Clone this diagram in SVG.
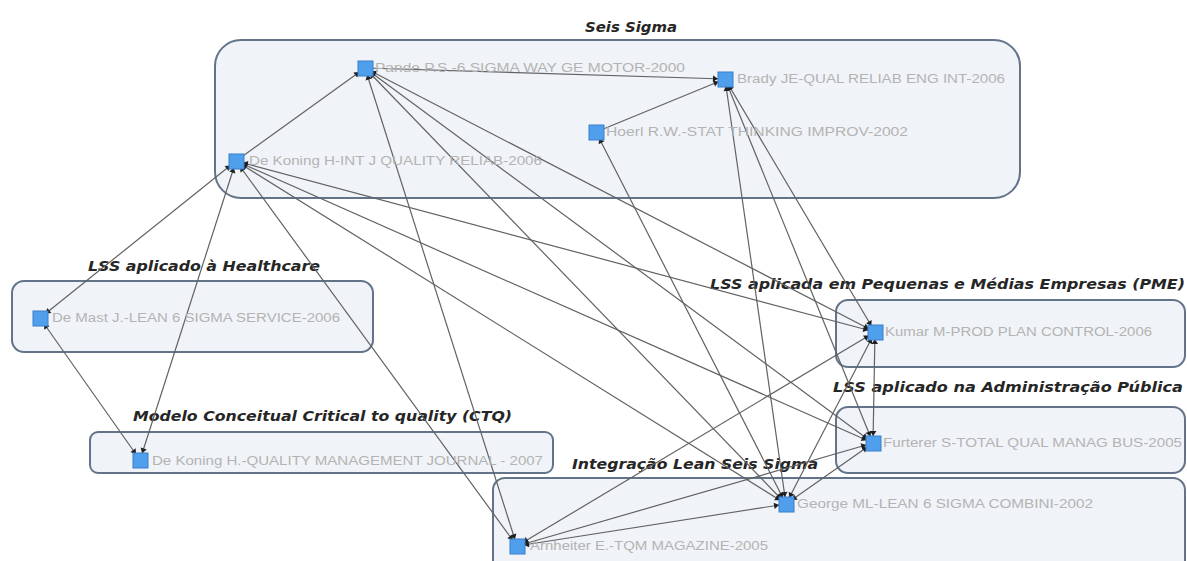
<svg xmlns="http://www.w3.org/2000/svg" width="1187" height="561" viewBox="0 0 1187 561">
<style>
.grp{fill:#f0f3f7;stroke:#63738a;stroke-width:2}
.ttl{font-family:"DejaVu Sans",Verdana,sans-serif;font-weight:bold;font-style:italic;font-size:14px;fill:#262626}
.lbl{font-family:"Liberation Sans",Arial,sans-serif;font-size:12px;fill:#b3b3b3}
.nd{fill:#4f9fec;stroke:#3b7fcf;stroke-width:1}
.e{stroke:#626262;stroke-width:1.2;fill:none;marker-end:url(#ah)}
.b{marker-start:url(#ah)}
</style>
<defs>
<marker id="ah" markerUnits="userSpaceOnUse" markerWidth="20" markerHeight="10" refX="18" refY="4" orient="auto-start-reverse">
<path d="M6,0.8 L11,4 L6,7.2 z" fill="#1f1f1f"/>
</marker>
</defs>
<rect width="1187" height="561" fill="#ffffff"/>
<g id="groups">
<g id="g-seis"><rect class="grp" x="215" y="40" width="805" height="158" rx="26"/><text class="ttl" x="585" y="32" textLength="92" lengthAdjust="spacingAndGlyphs">Seis Sigma</text></g>
<g id="g-health"><rect class="grp" x="12" y="281" width="361" height="71" rx="12"/><text class="ttl" x="88" y="271" textLength="232" lengthAdjust="spacingAndGlyphs">LSS aplicado à Healthcare</text></g>
<g id="g-ctq"><rect class="grp" x="90" y="432" width="463" height="41" rx="8"/><text class="ttl" x="133" y="421" textLength="379" lengthAdjust="spacingAndGlyphs">Modelo Conceitual Critical to quality (CTQ)</text></g>
<g id="g-lean"><rect class="grp" x="493" y="478" width="692" height="100" rx="12"/><text class="ttl" x="572" y="469" textLength="246" lengthAdjust="spacingAndGlyphs">Integração Lean Seis Sigma</text></g>
<g id="g-pme"><rect class="grp" x="836" y="300" width="349" height="67" rx="12"/><text class="ttl" x="710" y="289" textLength="475" lengthAdjust="spacingAndGlyphs">LSS aplicada em Pequenas e Médias Empresas (PME)</text></g>
<g id="g-adm"><rect class="grp" x="836" y="407" width="349" height="66" rx="12"/><text class="ttl" x="833" y="392" textLength="350" lengthAdjust="spacingAndGlyphs">LSS aplicado na Administração Pública</text></g>
</g>
<g id="connectors">
<line class="e" x1="236" y1="161" x2="365" y2="68"/>
<line class="e" x1="365" y1="68" x2="725" y2="79"/>
<line class="e" x1="596" y1="132" x2="725" y2="79"/>
<line class="e b" x1="875" y1="332" x2="725" y2="79"/>
<line class="e b" x1="873" y1="443" x2="725" y2="79"/>
<line class="e b" x1="786" y1="504" x2="725" y2="79"/>
<line class="e b" x1="786" y1="504" x2="596" y2="132"/>
<line class="e b" x1="875" y1="332" x2="365" y2="68"/>
<line class="e b" x1="873" y1="443" x2="365" y2="68"/>
<line class="e b" x1="786" y1="504" x2="365" y2="68"/>
<line class="e b" x1="517" y1="546" x2="365" y2="68"/>
<line class="e b" x1="875" y1="332" x2="236" y2="161"/>
<line class="e b" x1="873" y1="443" x2="236" y2="161"/>
<line class="e b" x1="786" y1="504" x2="236" y2="161"/>
<line class="e b" x1="517" y1="546" x2="236" y2="161"/>
<line class="e b" x1="40" y1="318" x2="236" y2="161"/>
<line class="e b" x1="140" y1="460" x2="236" y2="161"/>
<line class="e b" x1="40" y1="318" x2="140" y2="460"/>
<line class="e b" x1="875" y1="332" x2="873" y2="443"/>
<line class="e b" x1="517" y1="546" x2="875" y2="332"/>
<line class="e b" x1="517" y1="546" x2="786" y2="504"/>
<line class="e b" x1="517" y1="546" x2="873" y2="443"/>
<line class="e b" x1="786" y1="504" x2="873" y2="443"/>
<line class="e b" x1="786" y1="504" x2="875" y2="332"/>
</g>
<g id="n-pande"><rect class="nd" x="358" y="61" width="15" height="15"/><text class="lbl" x="375" y="72" textLength="310" lengthAdjust="spacingAndGlyphs">Pande P.S.-6 SIGMA WAY GE MOTOR-2000</text></g>
<g id="n-brady"><rect class="nd" x="718" y="72" width="15" height="15"/><text class="lbl" x="737" y="83" textLength="268" lengthAdjust="spacingAndGlyphs">Brady JE-QUAL RELIAB ENG INT-2006</text></g>
<g id="n-hoerl"><rect class="nd" x="589" y="125" width="15" height="15"/><text class="lbl" x="606" y="136" textLength="302" lengthAdjust="spacingAndGlyphs">Hoerl R.W.-STAT THINKING IMPROV-2002</text></g>
<g id="n-dekoning1"><rect class="nd" x="229" y="154" width="15" height="15"/><text class="lbl" x="249" y="165" textLength="293" lengthAdjust="spacingAndGlyphs">De Koning H-INT J QUALITY RELIAB-2006</text></g>
<g id="n-demast"><rect class="nd" x="33" y="311" width="15" height="15"/><text class="lbl" x="52" y="322" textLength="288" lengthAdjust="spacingAndGlyphs">De Mast J.-LEAN 6 SIGMA SERVICE-2006</text></g>
<g id="n-dekoning2"><rect class="nd" x="133" y="453" width="15" height="15"/><text class="lbl" x="152" y="465" textLength="391" lengthAdjust="spacingAndGlyphs">De Koning H.-QUALITY MANAGEMENT JOURNAL - 2007</text></g>
<g id="n-kumar"><rect class="nd" x="868" y="325" width="15" height="15"/><text class="lbl" x="885" y="336" textLength="267" lengthAdjust="spacingAndGlyphs">Kumar M-PROD PLAN CONTROL-2006</text></g>
<g id="n-furterer"><rect class="nd" x="866" y="436" width="15" height="15"/><text class="lbl" x="883" y="447" textLength="299" lengthAdjust="spacingAndGlyphs">Furterer S-TOTAL QUAL MANAG BUS-2005</text></g>
<g id="n-george"><rect class="nd" x="779" y="497" width="15" height="15"/><text class="lbl" x="797" y="508" textLength="296" lengthAdjust="spacingAndGlyphs">George ML-LEAN 6 SIGMA COMBINI-2002</text></g>
<g id="n-arnheiter"><rect class="nd" x="510" y="539" width="15" height="15"/><text class="lbl" x="530" y="550" textLength="238" lengthAdjust="spacingAndGlyphs">Arnheiter E.-TQM MAGAZINE-2005</text></g>
</svg>
